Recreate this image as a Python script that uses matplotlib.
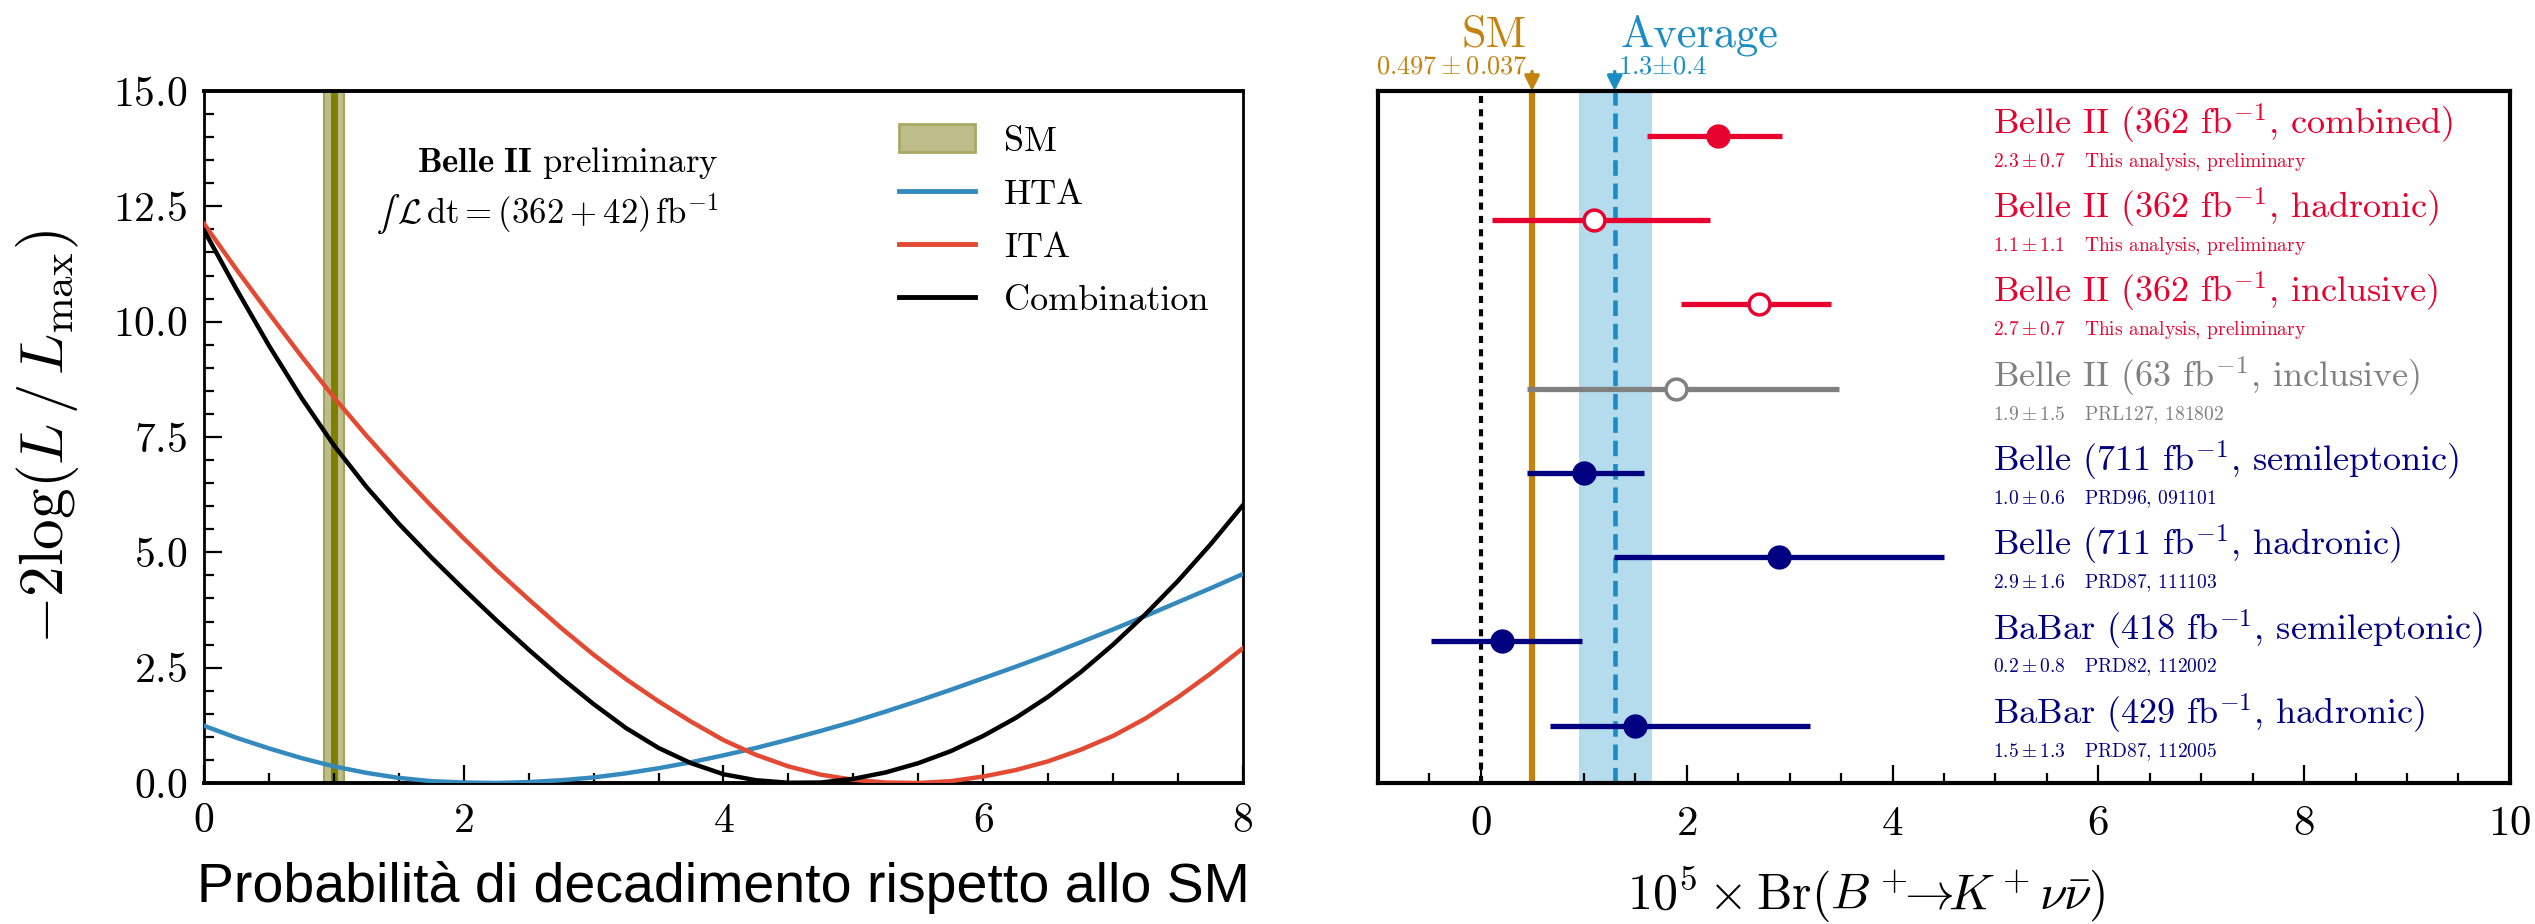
import matplotlib
matplotlib.use('Agg')
import matplotlib.pyplot as plt
from matplotlib.lines import Line2D
from matplotlib.patches import Patch
from matplotlib.ticker import MultipleLocator

plt.rcParams['font.family'] = ['cmr10']
plt.rcParams['mathtext.fontset'] = 'cm'
plt.rcParams['axes.unicode_minus'] = False
plt.rcParams['axes.formatter.use_mathtext'] = True

# ---- left panel: -2 log L scans vs signal strength ----
mu = [0, 0.25, 0.5, 0.75, 1.0, 1.25, 1.5, 1.75, 2.0, 2.25, 2.5, 2.75, 3.0,
      3.25, 3.5, 3.75, 4.0, 4.25, 4.5, 4.75, 5.0, 5.25, 5.5, 5.75, 6.0,
      6.25, 6.5, 6.75, 7.0, 7.25, 7.5, 7.75, 8.0]
hta = [1.24, 0.98, 0.75, 0.54, 0.36, 0.22, 0.11, 0.04, 0.01, 0.00, 0.02,
       0.06, 0.12, 0.21, 0.32, 0.45, 0.60, 0.76, 0.94, 1.13, 1.33, 1.55,
       1.78, 2.02, 2.27, 2.52, 2.78, 3.05, 3.33, 3.62, 3.92, 4.22, 4.53]
ita = [12.12, 11.13, 10.18, 9.25, 8.36, 7.53, 6.75, 6.01, 5.30, 4.62, 3.98,
       3.36, 2.78, 2.25, 1.77, 1.33, 0.93, 0.61, 0.36, 0.18, 0.07, 0.01,
       0.00, 0.04, 0.14, 0.28, 0.47, 0.72, 1.02, 1.40, 1.86, 2.37, 2.92]
comb = [11.98, 10.70, 9.48, 8.35, 7.32, 6.42, 5.62, 4.89, 4.20, 3.53, 2.89,
        2.28, 1.71, 1.19, 0.76, 0.43, 0.19, 0.06, 0.005, 0.01, 0.09, 0.23,
        0.43, 0.69, 1.02, 1.41, 1.87, 2.40, 3.00, 3.66, 4.38, 5.17, 6.02]
sm_mu = 1.0
sm_lo, sm_hi = 0.92, 1.08

# ---- right panel: branching fraction measurements ----
labels = ['Belle II (362 fb$^{-1}$, combined)',
          'Belle II (362 fb$^{-1}$, hadronic)',
          'Belle II (362 fb$^{-1}$, inclusive)',
          'Belle II (63 fb$^{-1}$, inclusive)',
          'Belle (711 fb$^{-1}$, semileptonic)',
          'Belle (711 fb$^{-1}$, hadronic)',
          'BaBar (418 fb$^{-1}$, semileptonic)',
          'BaBar (429 fb$^{-1}$, hadronic)']
sublabels = ['$2.3 \\pm 0.7$   This analysis, preliminary',
             '$1.1 \\pm 1.1$   This analysis, preliminary',
             '$2.7 \\pm 0.7$   This analysis, preliminary',
             '$1.9 \\pm 1.5$   PRL127, 181802',
             '$1.0 \\pm 0.6$   PRD96, 091101',
             '$2.9 \\pm 1.6$   PRD87, 111103',
             '$0.2 \\pm 0.8$   PRD82, 112002',
             '$1.5 \\pm 1.3$   PRD87, 112005']
values = [2.3, 1.1, 2.7, 1.9, 1.0, 2.9, 0.2, 1.5]
err_lo = [0.69, 0.99, 0.76, 1.45, 0.55, 1.61, 0.69, 0.83]
err_hi = [0.63, 1.13, 0.70, 1.58, 0.58, 1.60, 0.78, 1.70]
colors = ['#e8002e', '#e8002e', '#e8002e', '#808080',
          '#000080', '#000080', '#000080', '#000080']
open_marker = [False, True, True, True, False, False, False, False]
sm_br = 0.497
avg_br, avg_lo, avg_hi = 1.3, 0.95, 1.66

fig = plt.figure(figsize=(25.35, 9.24), dpi=100)
ax1 = fig.add_axes([0.0805, 0.1526, 0.4098, 0.7489])
ax2 = fig.add_axes([0.5436, 0.1526, 0.4465, 0.7489])

# ---------------- left ----------------
ax1.axvspan(sm_lo, sm_hi, facecolor='#bdbd8c', edgecolor='#a3a35a', lw=1.5, zorder=1)
ax1.axvline(sm_mu, color='#7f7f00', lw=5, zorder=1)
ax1.plot(mu, hta, color='#348abd', lw=3.2, zorder=3)
ax1.plot(mu, ita, color='#e24a33', lw=3.2, zorder=3)
ax1.plot(mu, comb, color='black', lw=3.2, zorder=3)
ax1.set_xlim(0, 8)
ax1.set_ylim(0, 15)
ax1.xaxis.set_major_locator(MultipleLocator(2))
ax1.xaxis.set_minor_locator(MultipleLocator(0.5))
ax1.yaxis.set_major_locator(MultipleLocator(2.5))
ax1.yaxis.set_minor_locator(MultipleLocator(0.5))
ax1.tick_params(which='both', direction='in', top=False, right=False, width=1.6)
ax1.tick_params(which='major', length=13, labelsize=30)
ax1.tick_params(which='minor', length=7)
ax1.tick_params(axis='x', pad=14)
ax1.tick_params(axis='y', pad=12)
for s in ax1.spines.values():
    s.set_linewidth(2.0)
ax1.spines['top'].set_linewidth(2.8)
ax1.spines['bottom'].set_linewidth(2.8)

ax1.set_ylabel(r'$-2\log(L\,/\,L_{\max})$', fontsize=44)
ax1.yaxis.set_label_coords(-0.118, 0.5)
ax1.set_xlabel('Probabilità di decadimento rispetto allo SM', fontsize=40,
               family=['Liberation Sans', 'DejaVu Sans'])
ax1.xaxis.set_label_coords(0.5, -0.151)
ax1.xaxis.label.set_va('center')

ax1.text(3.96, 13.45, r'$\mathbf{Belle\ II}$ preliminary', fontsize=25,
         ha='right', va='center')
ax1.text(3.96, 12.35, '$\u222b\\,\\mathcal{L}\\,\\mathrm{dt}=(362+42)\\,\\mathrm{fb}^{-1}$',
         fontsize=25, ha='right', va='center')

handles = [Patch(facecolor='#bdbd8c', edgecolor='#a9a965', lw=2),
           Line2D([], [], color='#348abd', lw=3.5),
           Line2D([], [], color='#e24a33', lw=3.5),
           Line2D([], [], color='black', lw=3.5)]
ax1.legend(handles, ['SM', 'HTA', 'ITA', 'Combination'], loc='upper left',
           bbox_to_anchor=(0.652, 0.978), frameon=False, fontsize=26,
           handlelength=2.1, handleheight=0.8, handletextpad=0.8,
           labelspacing=0.55, borderpad=0)

# ---------------- right ----------------
n = len(values)
ypos = [n - i for i in range(n)]
ax2.axvspan(avg_lo, avg_hi, color='#b4dcec', lw=0, zorder=1)
ax2.axvline(avg_br, color='#1a8cc6', lw=3.3, ls=(0, (3.4, 1.7)), zorder=2)
ax2.axvline(sm_br, color='#c4820e', lw=4.5, zorder=2)
ax2.axvline(0, color='black', lw=3, ls=(0, (1.7, 1.5)), zorder=2)

for i in range(n):
    c = colors[i]
    ax2.errorbar(values[i], ypos[i], xerr=[[err_lo[i]], [err_hi[i]]],
                 fmt='o', color=c, ecolor=c, elinewidth=3.8, capsize=0,
                 markersize=15, mec=c, mew=2.5,
                 mfc='white' if open_marker[i] else c, zorder=4)
    ax2.text(4.98, ypos[i] + 0.14, labels[i], color=c, fontsize=26,
             ha='left', va='center')
    ax2.text(4.98, ypos[i] - 0.31, sublabels[i], color=c, fontsize=14,
             ha='left', va='center')

ax2.set_xlim(-1, 10)
ax2.set_ylim(0.32, 8.53)
ax2.set_yticks([])
ax2.xaxis.set_major_locator(MultipleLocator(2))
ax2.xaxis.set_minor_locator(MultipleLocator(0.5))
ax2.tick_params(which='both', direction='in', top=False, width=1.6)
ax2.tick_params(which='major', length=13, labelsize=31, pad=16)
ax2.tick_params(which='minor', length=7)
for s in ax2.spines.values():
    s.set_linewidth(3)

ax2.set_xlabel(r'$10^5\times\mathrm{Br}(B^+\!\!\!\to\!\! K^+\nu\bar{\nu})$', fontsize=36)
ax2.xaxis.set_label_coords(0.431, -0.162)
ax2.xaxis.label.set_va('center')

# SM and average markers above the frame
ax2.annotate('', xy=(sm_br, 1.0), xycoords=('data', 'axes fraction'),
             xytext=(sm_br, 1.028), textcoords=('data', 'axes fraction'),
             arrowprops=dict(arrowstyle='-|>', color='#c4820e', lw=2.5,
                             mutation_scale=22, shrinkA=0, shrinkB=0))
ax2.annotate('', xy=(avg_br, 1.0), xycoords=('data', 'axes fraction'),
             xytext=(avg_br, 1.028), textcoords=('data', 'axes fraction'),
             arrowprops=dict(arrowstyle='-|>', color='#1a8cc6', lw=2.5,
                             mutation_scale=22, shrinkA=0, shrinkB=0))
ax2.text(0.45, 1.065, 'SM', color='#c4820e', fontsize=32, ha='right',
         va='baseline', transform=ax2.get_xaxis_transform())
ax2.text(0.45, 1.026, r'$0.497 \pm 0.037$', color='#c4820e', fontsize=19,
         ha='right', va='baseline', transform=ax2.get_xaxis_transform())
ax2.text(1.36, 1.065, 'Average', color='#1a8cc6', fontsize=32, ha='left',
         va='baseline', transform=ax2.get_xaxis_transform())
ax2.text(1.33, 1.026, r'1.3$\pm$0.4', color='#1a8cc6', fontsize=19, ha='left',
         va='baseline', transform=ax2.get_xaxis_transform())

fig.savefig('out.png', dpi=100)
